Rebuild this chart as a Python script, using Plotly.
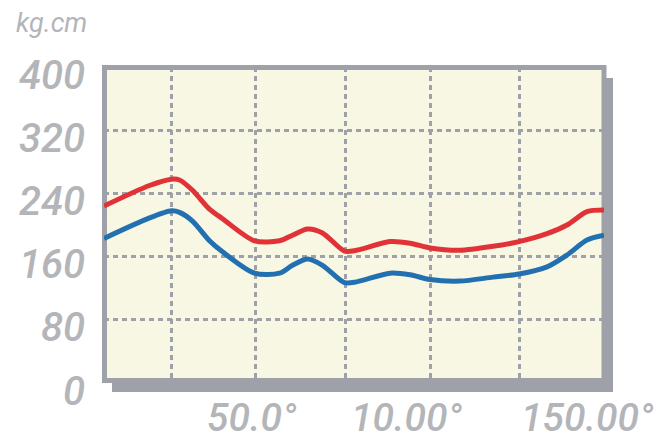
import plotly.graph_objects as go

# ---- data ----
x_pos = [0, 9.1, 13.5, 15.1, 17.7, 21.1, 23.7, 30.1, 35.1, 37.7, 40.7, 43.7,
         48.1, 50.5, 57.2, 61.2, 65.2, 71.2, 77.8, 83.0, 88.6, 92.6, 96.6, 100]
red_vals = [224, 250, 258, 257, 244, 220, 208, 180, 180, 187, 195, 190,
            167, 168, 179, 177, 171, 168, 173, 179, 189, 200, 217, 219]
blue_vals = [183, 209, 218, 216, 205, 180, 166, 139, 139, 149, 157, 149,
             127, 128, 139, 137, 131, 129, 134, 138, 147, 162, 181, 187]
y_ticks = [0, 80, 160, 240, 320, 400]
x_grid = [13.5, 30.3, 48.3, 65.2, 83.0]
x_label_pos = [29.5, 60.6, 96.6]
x_labels = ["50.0°", "10.00°", "150.00°"]
unit_label = "kg.cm"

# ---- layout geometry (pixels) ----
W, H = 659, 440
L, R, T, B = 104, 55, 67, 57
PW, PH = W - L - R, H - T - B


def px(xp):
    return (xp - L) / PW


def py(yp):
    return (H - B - yp) / PH


RED = "#e03237"
BLUE = "#2270b0"
GRAY = "#9ea1a7"
TXT = "#b3b5b9"
FONT = "Roboto, sans-serif"

fig = go.Figure()
fig.add_trace(go.Scatter(x=x_pos, y=red_vals, mode="lines",
                         line=dict(color=RED, width=5, shape="spline", smoothing=0.8),
                         hoverinfo="skip"))
fig.add_trace(go.Scatter(x=x_pos, y=blue_vals, mode="lines",
                         line=dict(color=BLUE, width=5, shape="spline", smoothing=0.8),
                         hoverinfo="skip"))

shapes = [
    dict(type="rect", xref="paper", yref="paper", x0=px(112), x1=px(613), y0=py(392), y1=py(78),
         fillcolor=GRAY, line=dict(width=0), layer="below"),
    dict(type="rect", xref="paper", yref="paper", x0=px(104.5), x1=px(604), y0=py(380.5), y1=py(67.5),
         fillcolor="#f8f7e3", line=dict(color=GRAY, width=5), layer="below"),
]

annotations = []
for v in y_ticks:
    annotations.append(dict(x=px(87), y=v, xref="paper", yref="y", text=str(v),
                            showarrow=False, xanchor="right", yanchor="middle", yshift=-8,
                            font=dict(family=FONT, size=40, color=TXT, style="italic", weight=500)))
for xv, t in zip(x_label_pos, x_labels):
    annotations.append(dict(x=xv, y=py(418), xref="x", yref="paper", text=t,
                            showarrow=False, xanchor="center", yanchor="middle",
                            font=dict(family=FONT, size=39, color=TXT, style="italic", weight=500)))
annotations.append(dict(x=px(51), y=py(23), xref="paper", yref="paper", text=unit_label,
                        showarrow=False, xanchor="center", yanchor="middle",
                        font=dict(family="Roboto, sans-serif", size=27,
                                  color=TXT, style="italic")))

fig.update_layout(
    width=W, height=H,
    margin=dict(l=L, r=R, t=T, b=B),
    paper_bgcolor="white", plot_bgcolor="rgba(0,0,0,0)",
    showlegend=False,
    shapes=shapes, annotations=annotations,
    xaxis=dict(range=[0, 100], tickvals=x_grid, showticklabels=False, showgrid=True,
               gridcolor=GRAY, gridwidth=2.5, griddash="5px,4px", zeroline=False,
               showline=False, ticks=""),
    yaxis=dict(range=[0, 400], tickvals=[80, 160, 240, 320], showticklabels=False,
               showgrid=True, gridcolor=GRAY, gridwidth=2.5, griddash="5px,4px",
               zeroline=False, showline=False, ticks=""),
)

fig.write_html("out.html", config={"displayModeBar": False},
               post_script="document.body.style.margin='0';")
